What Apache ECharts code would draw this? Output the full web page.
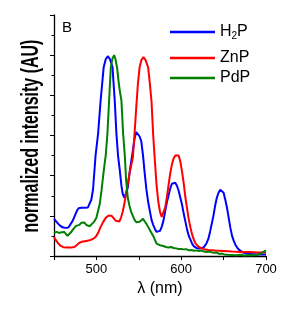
<!DOCTYPE html>
<html><head><meta charset="utf-8">
<script src="https://cdn.jsdelivr.net/npm/echarts@6/dist/echarts.min.js"></script>
<style>html,body{margin:0;padding:0;background:#fff}#c{width:293px;height:319px}</style>
</head><body><div id="c"></div>
<script>
// wavelength (nm) / normalized intensity pairs
const h2pWl = [450,452,455,458,461,464,467,469,472,475,477,479,482,486,490,492,494,496,499,502,505,508.6,511,513.7,516,519,521.6,523.6,525.5,527.5,529.5,531,533,535,537,539,541,543,545,547,549,551,553,555,557,559,561,563,565,567,569,571,573,575,577,579,581,583,585,587,589,591,593,595,597,599,601,603,605,607,609,611,613,615,618,621,624,627,630,632,634,636,638,640,642,644,646,648,650,652,654,656,658,660,662,664,666,668,670,673,677,682,690,700];
const h2pVal = [0.185,0.175,0.16,0.148,0.142,0.14,0.142,0.15,0.175,0.205,0.225,0.238,0.24,0.24,0.242,0.25,0.28,0.33,0.5,0.61,0.775,0.94,0.98,0.995,0.98,0.94,0.775,0.61,0.5,0.43,0.35,0.31,0.29,0.295,0.34,0.41,0.47,0.525,0.585,0.617,0.61,0.595,0.57,0.5,0.41,0.33,0.27,0.225,0.18,0.155,0.135,0.12,0.12,0.125,0.145,0.175,0.22,0.265,0.3,0.335,0.36,0.368,0.365,0.35,0.325,0.29,0.255,0.21,0.17,0.13,0.1,0.08,0.06,0.048,0.04,0.037,0.038,0.045,0.065,0.085,0.12,0.16,0.2,0.25,0.29,0.315,0.33,0.333,0.315,0.28,0.24,0.19,0.14,0.1,0.075,0.055,0.042,0.032,0.025,0.017,0.012,0.01,0.008,0.008];

const znpWl = [450,452,455,458,461,465,470,474,477,480,484,488,492,496,499,502,505,508,511,514,516,518,521,523,525,527,529,531,533,535,537,539,541,543,545,547,549,551,553,555.5,558,561,563,565,567,569,571,573,575,577,579,581,583,585,587,589,591,593,595,597,599,601,603,605,607,609,611,613,615,617,620,623,627,632,640,650,660,670,680,690,700];
const znpVal = [0.095,0.08,0.062,0.05,0.044,0.042,0.042,0.045,0.055,0.066,0.072,0.075,0.078,0.085,0.095,0.115,0.145,0.17,0.19,0.2,0.203,0.2,0.185,0.175,0.17,0.172,0.19,0.22,0.26,0.31,0.36,0.41,0.45,0.49,0.61,0.74,0.86,0.94,0.975,0.99,0.975,0.94,0.86,0.77,0.6,0.47,0.35,0.27,0.22,0.195,0.2,0.24,0.29,0.35,0.41,0.455,0.485,0.5,0.508,0.5,0.47,0.42,0.36,0.29,0.235,0.18,0.14,0.105,0.08,0.062,0.048,0.04,0.034,0.03,0.027,0.025,0.022,0.02,0.02,0.018,0.018];

const pdpWl = [450,453,456,459,462,464,466,468,470,472,474,476,478,480,482,484,486,488,490,492,494,496,498,500,502,504,506,508,510,511,513,515,517,519,521,522.5,524.5,526,527.5,529.5,531.5,533.5,535,537,539,541,543,545,547,549,551,553,555,557,559,561,563,565,567,569,571,573,576,579,582,585,588,591,594,597,600,603,606,609,612,615,618,621,624,627,630,633,636,639,642,645,648,651,655,660,665,670,675,680,685,690,693,696,700];
const pdpVal = [0.115,0.12,0.115,0.118,0.12,0.112,0.1,0.105,0.118,0.13,0.135,0.15,0.158,0.155,0.165,0.16,0.167,0.155,0.15,0.148,0.155,0.165,0.175,0.19,0.225,0.26,0.325,0.4,0.47,0.5,0.61,0.775,0.94,0.985,1.0,0.98,0.935,0.875,0.825,0.775,0.61,0.5,0.38,0.29,0.25,0.22,0.2,0.18,0.168,0.168,0.17,0.178,0.185,0.172,0.16,0.145,0.13,0.115,0.1,0.08,0.062,0.058,0.052,0.05,0.045,0.042,0.045,0.04,0.038,0.035,0.035,0.033,0.034,0.028,0.03,0.026,0.028,0.025,0.027,0.022,0.02,0.022,0.018,0.016,0.017,0.01,0.012,0.008,0.006,0.005,0.004,0.006,0.003,0.005,0.004,0.006,0.01,0.018,0.028];

const seriesNames = ['H2P','ZnP','PdP'];
const seriesColors = ['#0000ff','#ff0000','#008000'];
const xTicks = [500,600,700];

const FONT = 'Liberation Sans, Arial, sans-serif';
const zip = (a,b)=>a.map((x,i)=>[x,b[i]]);
const datas = [zip(h2pWl,h2pVal), zip(znpWl,znpVal), zip(pdpWl,pdpVal)];

const chart = echarts.init(document.getElementById('c'), null, {renderer:'canvas'});
const legendTops = [24, 50, 70];
chart.setOption({
  animation:false,
  backgroundColor:'#fff',
  title:{text:'B', left:62, top:20, padding:0, textStyle:{fontFamily:FONT, fontSize:15, fontWeight:'normal', color:'#000'}},
  grid:{left:54, top:15, width:212, height:241},
  legend: seriesNames.map((n,i)=>({
    data:[n], left:170, top:legendTops[i], orient:'vertical', padding:0,
    icon:'rect', itemWidth:45, itemHeight:2.5,
    formatter: s => s==='H2P' ? '{m|H}{s|2}{m|P}' : '{m|'+s+'}',
    textStyle:{fontFamily:FONT, fontSize:16, color:'#000',
      rich:{m:{fontFamily:FONT,fontSize:16,color:'#000'}, s:{fontFamily:FONT,fontSize:10,color:'#000',padding:[9,0,0,0]}}}
  })),
  xAxis:{type:'value', min:450, max:700, interval:50,
    name:'λ (nm)', nameLocation:'middle', nameGap:24,
    nameTextStyle:{fontFamily:FONT, fontSize:16, color:'#000'},
    axisLine:{lineStyle:{color:'#000', width:1.3}},
    axisTick:{length:4, lineStyle:{color:'#000'}},
    axisLabel:{fontFamily:FONT, fontSize:13, color:'#000', margin:7,
      formatter: v => xTicks.includes(v) ? String(v) : ''},
    splitLine:{show:false}},
  yAxis:{type:'value', min:0, max:1.2, interval:0.2,
    axisLine:{show:true, lineStyle:{color:'#000', width:1.3}},
    axisTick:{show:true, length:4, lineStyle:{color:'#000'}},
    minorTick:{show:true, splitNumber:2, length:2.5, lineStyle:{color:'#000'}},
    axisLabel:{show:false}, splitLine:{show:false}, minorSplitLine:{show:false}},
  graphic:[{type:'text', x:32, y:136, rotation:Math.PI/2, scaleY:1.45,
    style:{text:'normalized intensity (AU)', font:'bold 16px '+FONT, fill:'#000', align:'center', verticalAlign:'middle'}}],
  series: seriesNames.map((n,i)=>({name:n, type:'line', data:datas[i], showSymbol:false,
    lineStyle:{color:seriesColors[i], width:2}, itemStyle:{color:seriesColors[i]}}))
});
</script></body></html>
